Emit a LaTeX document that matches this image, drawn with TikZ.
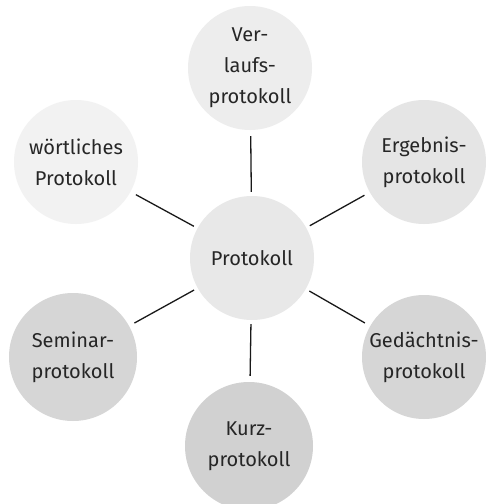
\documentclass[tikz,border=0pt]{standalone}
\usepackage{fontspec}
\setmainfont{Fira Sans}
\begin{document}
\begin{tikzpicture}[x=1pt,y=-1pt,
  bubble/.style={circle, minimum size=124pt, inner sep=0pt, align=center,
    text=black!85, font=\fontsize{20}{31}\selectfont},
  link/.style={line width=1.3pt, black!90, shorten <=4pt, shorten >=6pt}]
\useasboundingbox[fill=white] (0,0) rectangle (486,504);
\node[bubble, fill=black!7]  (V) at (250,68)  {Ver-\\laufs-\\protokoll};
\node[bubble, fill=black!5]  (W) at (76,162)  {wörtliches\\Protokoll};
\node[bubble, fill=black!10] (E) at (424,162) {Ergebnis-\\protokoll};
\node[bubble, fill=black!9]  (P) at (252,258) {Protokoll};
\node[bubble, fill=black!16, minimum size=128pt] (S) at (73,357)  {Seminar-\\protokoll};
\node[bubble, fill=black!16] (G) at (424,357) {Gedächtnis-\\protokoll};
\node[bubble, fill=black!18, minimum size=128pt] (K) at (249,446) {Kurz-\\protokoll};
\draw[link] (P) -- (V);
\draw[link] (P) -- (W);
\draw[link] (P) -- (E);
\draw[link] (P) -- (S);
\draw[link] (P) -- (G);
\draw[link] (P) -- (K);
\end{tikzpicture}
\end{document}
